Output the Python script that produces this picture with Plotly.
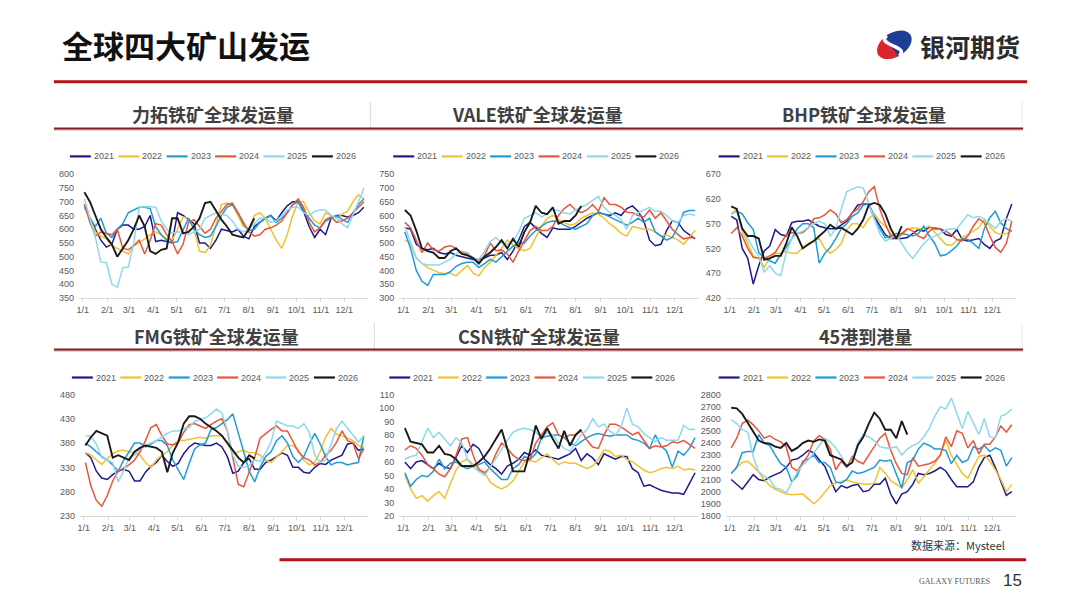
import math
import plotly.graph_objects as go
import pandas as pd

W, H = 1080, 608

years = ["2021", "2022", "2023", "2024", "2025", "2026"]
line_colors = ["#1F1A8C", "#F2C12E", "#1E9BD7", "#E8563A", "#8DD8EE", "#1A1A1A"]

# weekly points, all seasons put on one reference year
weeks = pd.date_range("2021-01-03", periods=52, freq="7D")
month_ticks = pd.date_range("2021-01-01", periods=12, freq="MS")

# 力拓
rio_2021 = [690, 640, 600, 560, 535, 545, 600, 615, 615, 600, 600, 610, 650, 555, 560, 555, 550, 660, 650, 635, 620, 550, 550, 530, 560, 600, 595, 590, 600, 575, 565, 610, 625, 640, 650, 630, 660, 685, 700, 700, 665, 610, 570, 600, 580, 640, 650, 650, 645, 650, 660, 680]
rio_2022 = [690, 640, 590, 575, 565, 540, 530, 520, 510, 540, 550, 565, 580, 590, 580, 565, 560, 600, 645, 640, 600, 520, 515, 540, 620, 690, 695, 690, 650, 610, 600, 650, 660, 640, 600, 560, 530, 580, 650, 700, 700, 660, 630, 620, 660, 650, 640, 655, 665, 700, 725, 710]
rio_2023 = [680, 640, 610, 640, 585, 570, 600, 620, 660, 670, 680, 680, 675, 610, 580, 560, 550, 555, 600, 640, 600, 580, 570, 575, 610, 650, 680, 690, 660, 620, 595, 600, 625, 640, 650, 625, 640, 660, 690, 700, 670, 640, 615, 605, 630, 640, 650, 635, 625, 660, 690, 710]
rio_2024 = [690, 625, 575, 590, 585, 580, 600, 530, 525, 540, 560, 510, 560, 620, 615, 580, 555, 510, 545, 625, 635, 610, 585, 600, 640, 665, 690, 695, 660, 620, 590, 575, 580, 600, 605, 615, 630, 660, 690, 710, 680, 625, 590, 605, 635, 645, 625, 630, 640, 660, 680, 700]
rio_2025 = [710, 640, 570, 480, 478, 400, 388, 460, 462, 550, 680, 682, 683, 680, 630, 600, 585, 590, 590, 580, 590, 600, 640, 650, 660, 655, 650, 630, 600, 590, 600, 620, 640, 640, 625, 630, 650, 670, 680, 680, 660, 650, 665, 670, 670, 650, 640, 620, 605, 650, 700, 750]
rio_2026 = [735, 700, 650, 600, 570, 545, 500, 530, 560, 600, 650, 610, 520, 510, 525, 530, 640, 640, 585, 590, 610, 640, 695, 700, 665, 635, 610, 580, 575, 570, 600, 640]

# VALE
vale_2021 = [555, 550, 495, 480, 475, 480, 465, 460, 465, 455, 450, 445, 440, 440, 445, 455, 455, 465, 440, 470, 510, 560, 575, 555, 535, 520, 555, 550, 550, 550, 560, 575, 590, 600, 610, 605, 600, 610, 600, 625, 635, 615, 580, 510, 490, 495, 545, 580, 575, 545, 530, 515]
vale_2022 = [510, 500, 445, 425, 410, 400, 392, 388, 390, 380, 400, 418, 390, 380, 410, 430, 455, 480, 510, 495, 478, 472, 480, 520, 560, 590, 600, 585, 575, 565, 570, 590, 600, 610, 605, 590, 570, 555, 535, 525, 560, 555, 550, 550, 540, 525, 530, 520, 510, 495, 520, 545]
vale_2023 = [540, 480, 400, 360, 345, 385, 385, 385, 395, 415, 425, 430, 430, 410, 425, 440, 430, 450, 470, 488, 500, 500, 525, 545, 560, 575, 580, 578, 565, 555, 550, 560, 570, 600, 612, 605, 595, 585, 575, 565, 575, 590, 575, 590, 540, 525, 510, 520, 560, 612, 618, 618]
vale_2024 = [575, 555, 510, 465, 500, 475, 470, 485, 490, 480, 465, 460, 445, 430, 455, 500, 472, 475, 460, 430, 470, 510, 545, 560, 545, 545, 560, 600, 625, 640, 620, 610, 620, 640, 615, 665, 640, 640, 630, 612, 610, 600, 595, 620, 590, 610, 580, 550, 530, 515, 520, 518]
vale_2025 = [560, 500, 445, 425, 420, 420, 420, 430, 440, 460, 470, 465, 445, 440, 470, 505, 520, 500, 495, 505, 540, 590, 600, 610, 595, 605, 620, 618, 610, 605, 620, 630, 640, 655, 670, 630, 610, 600, 585, 550, 600, 610, 620, 630, 615, 615, 600, 580, 575, 600, 605, 600]
vale_2026 = [620, 600, 545, 480, 470, 465, 445, 445, 470, 480, 460, 455, 445, 425, 450, 465, 485, 510, 480, 515, 485, 540, 575, 635, 610, 605, 630, 570, 580, 580, 600, 635]

# BHP
bhp_2021 = [585, 578, 520, 500, 448, 485, 515, 525, 558, 548, 545, 572, 575, 575, 578, 572, 565, 562, 560, 560, 568, 575, 592, 608, 610, 610, 585, 565, 548, 540, 540, 540, 542, 550, 558, 555, 563, 560, 560, 548, 545, 558, 538, 535, 538, 540, 528, 520, 535, 540, 580, 610]
bhp_2022 = [590, 600, 555, 530, 505, 500, 482, 500, 510, 510, 514, 510, 510, 522, 530, 535, 540, 520, 510, 518, 530, 558, 570, 570, 562, 580, 590, 575, 565, 550, 540, 548, 558, 562, 560, 560, 565, 552, 540, 528, 526, 536, 542, 548, 555, 562, 578, 565, 552, 548, 550, 555]
bhp_2023 = [590, 595, 590, 572, 558, 512, 500, 495, 490, 508, 522, 540, 560, 570, 570, 562, 490, 510, 522, 540, 560, 570, 585, 592, 608, 610, 580, 560, 542, 545, 550, 550, 548, 545, 550, 565, 545, 530, 505, 507, 515, 525, 540, 538, 530, 520, 560, 582, 595, 572, 560, 555]
bhp_2024 = [550, 562, 545, 520, 502, 500, 500, 505, 512, 530, 548, 552, 550, 552, 562, 580, 582, 588, 598, 590, 572, 578, 592, 600, 615, 635, 645, 600, 570, 545, 540, 550, 560, 555, 545, 540, 555, 562, 560, 555, 548, 538, 535, 545, 565, 580, 572, 545, 522, 512, 530, 575]
bhp_2025 = [590, 595, 560, 540, 520, 505, 472, 485, 470, 465, 512, 540, 550, 555, 562, 570, 575, 570, 545, 560, 600, 635, 640, 645, 642, 612, 582, 550, 535, 540, 548, 530, 512, 500, 515, 530, 540, 545, 550, 558, 560, 560, 575, 588, 582, 585, 580, 570, 560, 575, 580, 575]
bhp_2026 = [605, 600, 560, 545, 545, 540, 497, 500, 505, 505, 530, 563, 545, 520, 528, 535, 545, 555, 568, 560, 562, 555, 548, 560, 578, 608, 612, 608, 590, 560, 540, 565]

# FMG
fmg_2021 = [360, 350, 322, 308, 305, 315, 322, 326, 322, 302, 302, 320, 332, 340, 355, 342, 332, 338, 358, 372, 380, 378, 375, 375, 380, 372, 352, 318, 322, 340, 348, 326, 326, 340, 345, 352, 360, 355, 330, 330, 320, 318, 330, 338, 336, 345, 350, 355, 378, 380, 365, 368]
fmg_2022 = [360, 356, 345, 336, 348, 358, 364, 365, 362, 360, 355, 340, 330, 345, 355, 362, 375, 385, 385, 388, 390, 392, 390, 395, 395, 395, 380, 358, 362, 365, 360, 360, 355, 345, 340, 350, 362, 375, 375, 365, 345, 335, 340, 362, 392, 410, 398, 395, 390, 385, 375, 370]
fmg_2023 = [380, 372, 362, 352, 345, 335, 322, 345, 362, 380, 380, 372, 378, 385, 385, 375, 345, 325, 305, 338, 368, 376, 380, 408, 412, 420, 428, 440, 400, 360, 322, 300, 330, 352, 362, 385, 395, 380, 352, 340, 352, 378, 400, 378, 352, 335, 340, 340, 335, 338, 340, 395]
fmg_2024 = [340, 292, 262, 250, 272, 302, 322, 328, 335, 345, 362, 385, 412, 418, 395, 378, 376, 382, 402, 418, 420, 415, 410, 418, 425, 430, 405, 350, 295, 290, 320, 350, 390, 400, 408, 415, 405, 405, 385, 362, 350, 345, 335, 340, 355, 365, 382, 405, 385, 380, 348, 368]
fmg_2025 = [395, 394, 378, 350, 345, 340, 300, 322, 350, 355, 368, 375, 380, 385, 392, 400, 405, 405, 410, 412, 425, 428, 432, 440, 450, 442, 405, 355, 332, 330, 334, 345, 342, 360, 382, 425, 420, 415, 415, 410, 420, 402, 355, 340, 345, 380, 410, 425, 410, 395, 382, 395]
fmg_2026 = [375, 392, 405, 400, 395, 350, 355, 350, 345, 362, 370, 375, 372, 370, 362, 320, 360, 382, 420, 435, 435, 430, 420, 412, 405, 395, 380, 365, 350, 340, 355, 348]

# CSN
csn_2021 = [60, 55, 60, 61, 58, 55, 59, 56, 55, 63, 72, 67, 73, 70, 62, 58, 55, 51, 57, 59, 62, 67, 65, 69, 65, 64, 63, 62, 64, 66, 70, 61, 66, 63, 58, 66, 64, 62, 64, 64, 55, 52, 42, 43, 41, 39, 38, 37, 37, 36, 44, 52]
csn_2022 = [50, 40, 33, 35, 31, 35, 38, 33, 44, 54, 60, 62, 58, 55, 52, 45, 42, 40, 42, 46, 53, 60, 61, 60, 63, 66, 62, 58, 60, 59, 59, 57, 55, 57, 62, 69, 68, 64, 65, 62, 60, 57, 54, 52, 53, 55, 56, 55, 57, 54, 55, 54]
csn_2023 = [52, 42, 47, 50, 49, 53, 62, 55, 59, 60, 57, 55, 57, 58, 60, 55, 51, 47, 47, 55, 58, 64, 62, 66, 78, 79, 80, 80, 78, 74, 72, 75, 78, 80, 81, 80, 79, 80, 80, 80, 77, 76, 74, 70, 80, 72, 68, 56, 68, 65, 70, 78]
csn_2024 = [69, 72, 70, 65, 58, 55, 51, 49, 55, 65, 77, 78, 65, 54, 52, 56, 66, 74, 70, 65, 62, 61, 62, 74, 80, 86, 89, 80, 78, 80, 80, 83, 76, 71, 70, 80, 88, 88, 86, 83, 80, 82, 76, 70, 72, 71, 72, 75, 74, 76, 73, 70]
csn_2025 = [62, 64, 65, 75, 85, 78, 82, 77, 72, 78, 74, 62, 56, 53, 50, 56, 63, 70, 76, 82, 84, 85, 84, 82, 78, 82, 80, 74, 70, 68, 74, 80, 84, 92, 86, 88, 83, 80, 86, 100, 88, 86, 81, 78, 75, 78, 76, 76, 76, 87, 84, 84]
csn_2026 = [85, 75, 74, 73, 67, 67, 72, 66, 65, 62, 57, 57, 57, 60, 64, 70, 77, 84, 70, 53, 53, 53, 68, 87, 77, 85, 77, 70, 83, 72, 80, 84]

# 45港到港量
port_2021 = [2100, 2060, 2020, 2080, 2140, 2100, 2090, 2120, 2140, 2160, 2200, 2260, 2270, 2300, 2340, 2320, 2260, 2210, 2100, 2000, 2050, 2030, 2050, 2060, 2000, 2010, 2060, 2060, 2110, 1980, 1900, 1980, 2000, 2060, 2150, 2140, 2150, 2170, 2200, 2170, 2100, 2040, 2040, 2040, 2080, 2200, 2280, 2300, 2200, 2080, 1970, 2000]
port_2022 = [2150, 2200, 2240, 2250, 2210, 2160, 2100, 2050, 2020, 2000, 1980, 1975, 1975, 1980, 1940, 1900, 1940, 2000, 2050, 2070, 2080, 2095, 2080, 2070, 2060, 2060, 2070, 2200, 2150, 2090, 2060, 2030, 2100, 2180, 2070, 2120, 2180, 2230, 2300, 2420, 2300, 2220, 2150, 2110, 2200, 2290, 2300, 2250, 2180, 2100, 2000, 2060]
port_2023 = [2150, 2200, 2320, 2330, 2330, 2470, 2400, 2380, 2300, 2230, 2200, 2080, 2130, 2250, 2270, 2300, 2240, 2240, 2200, 2080, 2070, 2100, 2170, 2150, 2160, 2180, 2200, 2260, 2250, 2260, 2150, 2030, 2240, 2260, 2350, 2400, 2380, 2350, 2350, 2340, 2230, 2300, 2240, 2260, 2370, 2350, 2380, 2330, 2360, 2340, 2210, 2280]
port_2024 = [2360, 2440, 2560, 2590, 2550, 2500, 2440, 2460, 2430, 2410, 2370, 2200, 2170, 2240, 2300, 2420, 2460, 2430, 2350, 2180, 2250, 2200, 2290, 2250, 2230, 2300, 2370, 2440, 2480, 2340, 2230, 2150, 2140, 2280, 2210, 2220, 2230, 2250, 2300, 2450, 2370, 2500, 2480, 2360, 2420, 2310, 2390, 2390, 2450, 2540, 2490, 2550]
port_2025 = [2590, 2560, 2510, 2490, 2290, 2160, 2130, 2100, 2030, 2020, 1990, 2080, 2160, 2220, 2260, 2320, 2380, 2440, 2410, 2360, 2290, 2200, 2260, 2400, 2470, 2450, 2420, 2370, 2360, 2360, 2370, 2300, 2350, 2380, 2400, 2450, 2520, 2620, 2700, 2680, 2770, 2650, 2520, 2660, 2570, 2470, 2600, 2450, 2440, 2620, 2640, 2680]
port_2026 = [2690, 2685, 2640, 2570, 2500, 2420, 2400, 2395, 2370, 2360, 2400, 2335, 2360, 2400, 2420, 2410, 2430, 2420, 2300, 2280, 2265, 2210, 2240, 2380, 2450, 2560, 2650, 2600, 2510, 2510, 2440, 2580, 2470]

panels = [
    dict(title="力拓铁矿全球发运量", series=[rio_2021, rio_2022, rio_2023, rio_2024, rio_2025, rio_2026],
         yr=[350, 800], dy=50, jan1=81, dec1=343, top=173, bot=297, legx=68, legy=155),
    dict(title="VALE铁矿全球发运量", series=[vale_2021, vale_2022, vale_2023, vale_2024, vale_2025, vale_2026],
         yr=[300, 750], dy=50, jan1=402, dec1=674, top=173, bot=297, legx=392, legy=155),
    dict(title="BHP铁矿全球发运量", series=[bhp_2021, bhp_2022, bhp_2023, bhp_2024, bhp_2025, bhp_2026],
         yr=[420, 670], dy=50, jan1=729, dec1=992, top=173, bot=297, legx=718, legy=155),
    dict(title="FMG铁矿全球发运量", series=[fmg_2021, fmg_2022, fmg_2023, fmg_2024, fmg_2025, fmg_2026],
         yr=[230, 480], dy=50, jan1=82, dec1=343, top=394, bot=516, legx=70, legy=377),
    dict(title="CSN铁矿全球发运量", series=[csn_2021, csn_2022, csn_2023, csn_2024, csn_2025, csn_2026],
         yr=[20, 110], dy=10, jan1=402, dec1=674, top=394, bot=516, legx=388, legy=377),
    dict(title="45港到港量", series=[port_2021, port_2022, port_2023, port_2024, port_2025, port_2026],
         yr=[1800, 2800], dy=100, jan1=729, dec1=992, top=394, bot=516, legx=718, legy=377),
]
header_centers = [(211, 112), (536, 112), (864, 112), (215, 335), (538, 335), (865, 335)]


def px(x):
    return x / W


def py(y):
    # small vertical stretch: the page photo comes out about 1% squashed
    y = 80 + (y - 82) / 0.9875
    return 1 - y / H


def path_of(points, close=True):
    s = "M " + " L ".join(f"{px(a):.5f},{py(b):.5f}" for a, b in points)
    return s + " Z" if close else s


tick_font = dict(family="Liberation Sans, Arial, sans-serif", size=9, color="#595959")
cjk = "Noto Sans CJK SC, sans-serif"

fig = go.Figure()
layout = {}
shapes = []
annotations = []

for k, p in enumerate(panels, start=1):
    xa = "x" if k == 1 else f"x{k}"
    ya = "y" if k == 1 else f"y{k}"
    for name, col, vals in zip(years, line_colors, p["series"]):
        fig.add_trace(go.Scatter(
            x=weeks[:len(vals)], y=vals, name=name, mode="lines",
            line=dict(color=col, width=1.9 if name == "2026" else 1.5),
            xaxis=xa, yaxis=ya, showlegend=False, hoverinfo="x+y+name"))

    ppd = (p["dec1"] - p["jan1"]) / 334
    x0 = p["jan1"] - 5 * ppd
    x1 = p["jan1"] + 364 * ppd
    layout["xaxis" if k == 1 else f"xaxis{k}"] = dict(
        domain=[px(x0), px(x1)], anchor=ya, type="date",
        range=["2020-12-27", "2021-12-31"],
        tickvals=month_ticks, tickformat="%-m/%-d",
        showline=True, linecolor="#D9D9D9", linewidth=1,
        ticks="outside", ticklen=3, tickcolor="#D9D9D9",
        showgrid=False, zeroline=False, tickfont=tick_font, fixedrange=True)
    layout["yaxis" if k == 1 else f"yaxis{k}"] = dict(
        domain=[py(p["bot"]), py(p["top"])], anchor=xa,
        range=p["yr"], dtick=p["dy"], tick0=p["yr"][0],
        showline=False, showgrid=False, zeroline=False,
        tickfont=tick_font, ticklabelstandoff=4, fixedrange=True)

    # legend row drawn above each panel
    for j, (name, col) in enumerate(zip(years, line_colors)):
        lx = p["legx"] + j * 48.5
        shapes.append(dict(type="line", xref="paper", yref="paper",
                           x0=px(lx), x1=px(lx + 21), y0=py(p["legy"]), y1=py(p["legy"]),
                           line=dict(color=col, width=2.2)))
        annotations.append(dict(text=name, x=px(lx + 22), y=py(p["legy"]), xref="paper", yref="paper",
                                xanchor="left", yanchor="middle", showarrow=False,
                                font=dict(family="Liberation Sans, Arial, sans-serif", size=9, color="#595959")))

    cx, cy = header_centers[k - 1]
    annotations.append(dict(text=f"<b>{p['title']}</b>", x=px(cx), y=py(cy), xref="paper", yref="paper",
                            xanchor="center", yanchor="middle", showarrow=False,
                            font=dict(family=cjk, size=18, color="#404040")))

# header bands
for top, bottom, mid in [(100, 127, 369), (322, 349, 373)]:
    shapes.append(dict(type="line", xref="paper", yref="paper", x0=px(mid), x1=px(mid),
                       y0=py(top), y1=py(bottom), line=dict(color="#DADADA", width=1)))
    shapes.append(dict(type="line", xref="paper", yref="paper", x0=px(1022), x1=px(1022),
                       y0=py(top), y1=py(bottom), line=dict(color="#EBEBEB", width=1)))
    shapes.append(dict(type="line", xref="paper", yref="paper", x0=px(52), x1=px(1023),
                       y0=py(bottom + 1.5), y1=py(bottom + 1.5), line=dict(color="#EBCFCF", width=2)))
    shapes.append(dict(type="line", xref="paper", yref="paper", x0=px(52), x1=px(1023),
                       y0=py(bottom), y1=py(bottom), line=dict(color="#7E1F22", width=2)))

# top rule and footer rule
shapes.append(dict(type="line", xref="paper", yref="paper", x0=px(52), x1=px(1027),
                   y0=py(80), y1=py(80), line=dict(color="#B5121B", width=3)))
shapes.append(dict(type="line", xref="paper", yref="paper", x0=px(278), x1=px(1026),
                   y0=py(560), y1=py(560), line=dict(color="#B5121B", width=3)))

# logo mark: tilted oval, red left half, blue right half, white S between
lcx, lcy, rx, ry, tilt = 894, 43, 19, 12, math.radians(-32)


def oval(t_deg):
    t = math.radians(t_deg)
    ex, ey = rx * math.cos(t), ry * math.sin(t)
    return (lcx + ex * math.cos(tilt) - ey * math.sin(tilt),
            lcy + ex * math.sin(tilt) + ey * math.cos(tilt))


red_pts = [oval(a) for a in range(80, 285, 8)]
blue_pts = [oval(a) for a in range(-100, 105, 8)]
shapes.append(dict(type="path", xref="paper", yref="paper", path=path_of(red_pts),
                   fillcolor="#D8262A", line=dict(width=0)))
shapes.append(dict(type="path", xref="paper", yref="paper", path=path_of(blue_pts),
                   fillcolor="#1E3D95", line=dict(width=0)))
s_pts = []
for i in range(13):
    f = i / 12
    a, b = oval(95), oval(-95)
    bx = a[0] + (b[0] - a[0]) * f + 5 * math.sin(2 * math.pi * f)
    by = a[1] + (b[1] - a[1]) * f
    s_pts.append((bx, by))
shapes.append(dict(type="path", xref="paper", yref="paper", path=path_of(s_pts, close=False),
                   line=dict(color="white", width=3.5)))

annotations += [
    dict(text="<b>全球四大矿山发运</b>", x=px(58), y=py(43), xref="paper", yref="paper",
         xanchor="left", yanchor="middle", showarrow=False,
         font=dict(family=cjk, size=31, color="#111111")),
    dict(text="<b>银河期货</b>", x=px(918), y=py(44), xref="paper", yref="paper",
         xanchor="left", yanchor="middle", showarrow=False,
         font=dict(family=cjk, size=25, color="#2B2B2B")),
    dict(text="数据来源：Mysteel", x=px(1007), y=py(545), xref="paper", yref="paper",
         xanchor="right", yanchor="middle", showarrow=False,
         font=dict(family=cjk, size=11, color="#333333")),
    dict(text="GALAXY FUTURES", x=px(992), y=py(582), xref="paper", yref="paper",
         xanchor="right", yanchor="middle", showarrow=False,
         font=dict(family="Liberation Serif, serif", size=8, color="#555555")),
    dict(text="15", x=px(1024), y=py(581), xref="paper", yref="paper",
         xanchor="right", yanchor="middle", showarrow=False,
         font=dict(family="Liberation Sans, Arial, sans-serif", size=17, color="#333333")),
]

fig.update_layout(
    width=W, height=H,
    margin=dict(l=0, r=0, t=0, b=0),
    paper_bgcolor="white", plot_bgcolor="white",
    showlegend=False,
    shapes=shapes, annotations=annotations,
    **layout,
)

# page margin off so the 1080x608 figure fills the window exactly
fig.write_html(
    "out.html",
    config={"displayModeBar": False},
    post_script="document.body.style.margin='0';document.body.style.overflow='hidden';",
)
